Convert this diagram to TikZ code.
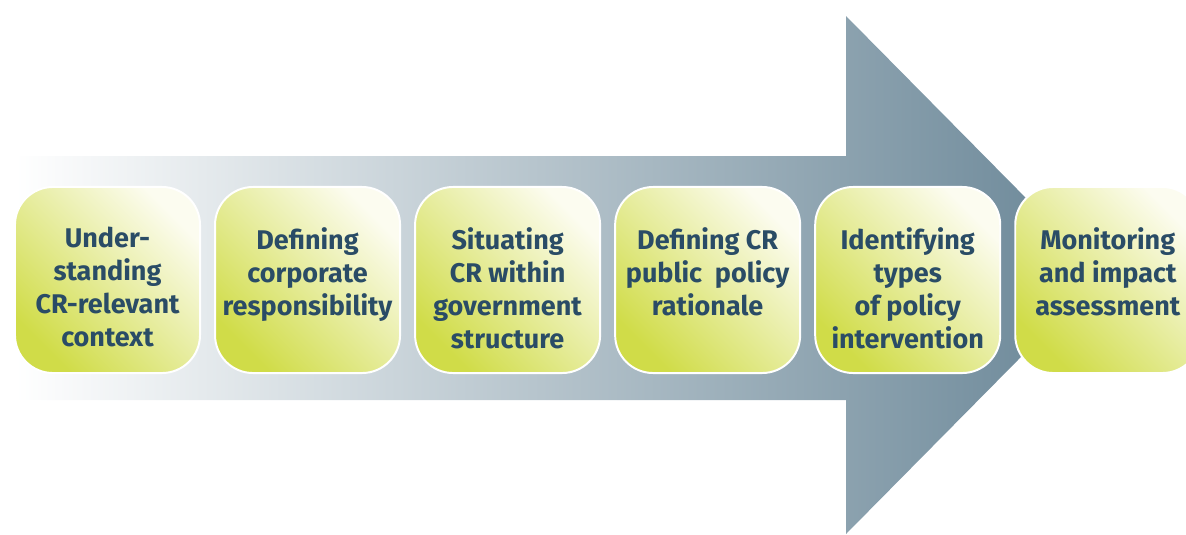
\documentclass[tikz,border=0pt]{standalone}
\usepackage{fontspec}
\setmainfont{Fira Sans}
\usepackage{tikz}
\usetikzlibrary{positioning}

\begin{document}
\begin{tikzpicture}[
		x=0.025cm, y=-0.025cm,
		line join=round,
		node distance=0.375cm,
		stepbox/.style={draw=white, line width=1.4pt, rounded corners=0.95cm,
			minimum width=4.625cm, minimum height=4.65cm, inner sep=0pt, outer sep=0pt,
			shading=axis, top color=BoxPaleCol, bottom color=BoxLimeCol,
			shading angle=-45},
		steptext/.style={font=\fontsize{19.2}{23.5}\selectfont\bfseries,
			text=TextCol, align=center, inner sep=0pt,
			execute at begin node={\vphantom{Idf}}},
		]
		
		% Colours
		\definecolor{ArrowCol}{RGB}{104,133,150}  % slate blue-grey
		\definecolor{BoxLimeCol}{RGB}{208,220,72} % yellow-green
		\definecolor{BoxPaleCol}{RGB}{252,252,240}
		\definecolor{TextCol}{RGB}{42,76,102}
		
		\clip (0,0) rectangle (1186,534);
		
		% Big arrow, fading in from the left
		\shade[left color=white, right color=ArrowCol]
		(15,156) -- (846,156) -- (846,16) -- (1102,275)
		-- (846,534) -- (846,400) -- (15,400) -- cycle;
		
		% --- the six steps ---
		\node[stepbox] (s1) at (107.5,280) {};
		\node[stepbox, right=of s1] (s2) {};
		\node[stepbox, right=of s2] (s3) {};
		\node[stepbox, right=of s3] (s4) {};
		\node[stepbox, right=of s4] (s5) {};
		\node[stepbox, right=of s5] (s6) {};
		
		% Labels hang from the top of each box
		\node[steptext, below=1.0cm of s1.north] (t1) {Under-\\standing\\CR-relevant\\context};
		\node[steptext, below=1.0cm of s2.north] (t2) {Defining\\corporate\\responsibility};
		\node[steptext, below=1.0cm of s3.north] (t3) {Situating\\CR within\\government\\structure};
		\node[steptext, below=1.0cm of s4.north] (t4) {Defining CR\\public~~policy\\rationale};
		\node[steptext, below=1.0cm of s5.north] (t5) {Identifying\\types\\of policy\\intervention};
		\node[steptext, below=1.0cm of s6.north] (t6) {Monitoring\\and impact\\assessment};
		
	\end{tikzpicture}
\end{document}
